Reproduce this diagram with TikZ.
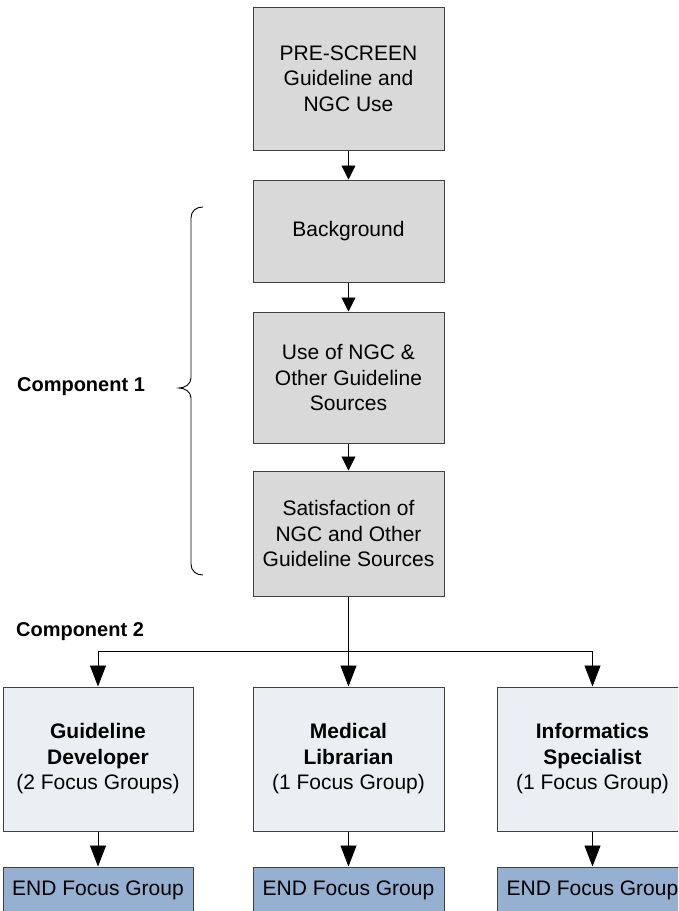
\documentclass[tikz,border=0pt]{standalone}
\usepackage{fontspec}
\setmainfont{Liberation Sans}
\usetikzlibrary{arrows.meta}
\definecolor{boxgray}{HTML}{D9D9D9}
\definecolor{boxlight}{HTML}{EBEEF3}
\definecolor{boxblue}{HTML}{95B0D0}
\definecolor{edge}{HTML}{404040}
\tikzset{
  basebox/.style={draw=edge, line width=1pt, inner sep=2pt, align=center,
    font=\fontsize{21}{25.5}\selectfont, text=black},
  graybox/.style={basebox, fill=boxgray, minimum width=191pt},
  lightbox/.style={basebox, fill=boxlight, minimum width=190pt, minimum height=144pt},
  endbox/.style={basebox, fill=boxblue, minimum width=190pt, minimum height=46pt},
  conn/.style={draw=black, line width=0.9pt},
  smallarrow/.style={conn, -{Triangle[length=14pt,width=14pt]}},
  bigarrow/.style={conn, -{Triangle[length=21pt,width=16pt]}},
  complabel/.style={font=\fontsize{20}{24}\selectfont\bfseries, text=black},
}
\begin{document}
\begin{tikzpicture}[x=1pt,y=-1pt]
\useasboundingbox (0,0) rectangle (678,911);
\clip (0,0) rectangle (678,911);
\fill[white] (0,0) rectangle (678,911);

% main column
\node[graybox, minimum height=143pt] (pre) at (348.5,78.5) {PRE-SCREEN\\Guideline and\\NGC Use};
\node[graybox, minimum height=102pt] (bg) at (348.5,231) {Background};
\node[graybox, minimum height=131pt] (use) at (348.5,377.5) {Use of NGC \&\\Other Guideline\\Sources};
\node[graybox, minimum height=125pt] (sat) at (348.5,533.5) {Satisfaction of\\NGC and Other\\Guideline Sources};

\draw[smallarrow] (pre.south) -- (bg.north);
\draw[smallarrow] (bg.south) -- (use.north);
\draw[smallarrow] (use.south) -- (sat.north);

% component 2 boxes
\node[lightbox] (gd) at (98,759) {\textbf{Guideline}\\\textbf{Developer}\\(2 Focus Groups)};
\node[lightbox, minimum width=191pt] (ml) at (348.5,759) {\textbf{Medical}\\\textbf{Librarian}\\(1 Focus Group)};
\node[lightbox, minimum width=191pt] (is) at (592.5,759) {\textbf{Informatics}\\\textbf{Specialist}\\(1 Focus Group)};

\node[endbox] (e1) at (98,890) {END Focus Group};
\node[endbox, minimum width=191pt] (e2) at (348.5,890) {END Focus Group};
\node[endbox, minimum width=191pt] (e3) at (592.5,890) {END Focus Group};

\coordinate (j) at (348.5,651);
\draw[conn] (sat.south) -- (j);
\draw[bigarrow] (j) -| (gd.north);
\draw[bigarrow] (j) -- (ml.north);
\draw[bigarrow] (j) -| (is.north);

\draw[bigarrow] (gd.south) -- (e1.north);
\draw[bigarrow] (ml.south) -- (e2.north);
\draw[bigarrow] (is.south) -- (e3.north);

% brace
\draw[line width=0.9pt, black] (203,207) .. controls (196,207) and (191,211) .. (191,218)
  -- (191,378) .. controls (191,384) and (185,388) .. (179,388)
  .. controls (185,388) and (191,392) .. (191,398)
  -- (191,564) .. controls (191,571) and (196,575) .. (203,575);

\node[complabel] (c1) at (81,387) {Component 1};
\node[complabel] (c2) at (80,632) {Component 2};
\end{tikzpicture}
\end{document}
